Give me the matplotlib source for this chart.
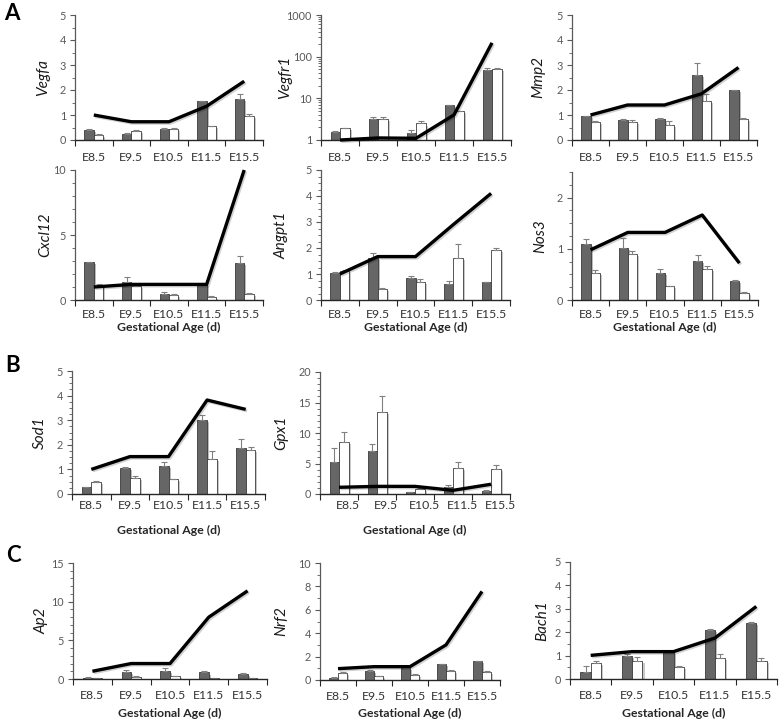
import matplotlib
matplotlib.use('Agg')
import matplotlib.pyplot as plt
import matplotlib.patheffects as pe
import matplotlib.transforms as mtransforms
from matplotlib.ticker import MultipleLocator, FixedLocator, LogLocator, NullFormatter, FixedFormatter
import numpy as np

plt.rcParams['font.family'] = ['Lato', 'DejaVu Sans']

stages = ['E8.5', 'E9.5', 'E10.5', 'E11.5', 'E15.5']

# line = fold change, dark/white bars with upper error bars
vegfa_line = [1.0, 0.73, 0.73, 1.35, 2.35]
vegfa_dark = [0.40, 0.25, 0.45, 1.55, 1.65]
vegfa_dark_err = [0.05, 0.05, 0.05, 0.02, 0.2]
vegfa_white = [0.22, 0.38, 0.45, 0.55, 0.95]
vegfa_white_err = [0.02, 0.03, 0.03, 0.02, 0.1]

vegfr1_line = [1.0, 1.12, 1.1, 4.0, 215]
vegfr1_dark = [1.53, 3.2, 1.5, 6.8, 48]
vegfr1_dark_err = [0.1, 0.4, 0.25, 0.1, 5]
vegfr1_white = [1.9, 3.2, 2.5, 5.0, 51]
vegfr1_white_err = [0.05, 0.3, 0.3, 0.1, 3]

mmp2_line = [1.0, 1.4, 1.4, 1.85, 2.9]
mmp2_dark = [0.95, 0.8, 0.85, 2.6, 2.0]
mmp2_dark_err = [0.02, 0.03, 0.02, 0.48, 0.02]
mmp2_white = [0.72, 0.72, 0.62, 1.55, 0.85]
mmp2_white_err = [0.06, 0.08, 0.16, 0.3, 0.03]

cxcl12_line = [1.0, 1.2, 1.2, 1.2, 10.0]
cxcl12_dark = [2.9, 1.4, 0.5, 1.2, 2.85]
cxcl12_dark_err = [0.0, 0.4, 0.12, 0.05, 0.55]
cxcl12_white = [1.1, 1.1, 0.4, 0.25, 0.5]
cxcl12_white_err = [0.12, 0.05, 0.03, 0.02, 0.06]

angpt1_line = [1.0, 1.67, 1.67, 2.9, 4.1]
angpt1_dark = [1.05, 1.6, 0.85, 0.62, 0.68]
angpt1_dark_err = [0.02, 0.2, 0.06, 0.13, 0.02]
angpt1_white = [1.12, 0.42, 0.68, 1.6, 1.93]
angpt1_white_err = [0.03, 0.03, 0.12, 0.55, 0.06]

nos3_line = [0.98, 1.32, 1.32, 1.66, 0.72]
nos3_dark = [1.1, 1.02, 0.53, 0.76, 0.37]
nos3_dark_err = [0.1, 0.2, 0.07, 0.11, 0.03]
nos3_white = [0.52, 0.9, 0.27, 0.6, 0.14]
nos3_white_err = [0.06, 0.06, 0.01, 0.06, 0.01]

sod1_line = [1.0, 1.52, 1.52, 3.82, 3.44]
sod1_dark = [0.28, 1.05, 1.15, 3.0, 1.88]
sod1_dark_err = [0.02, 0.06, 0.15, 0.2, 0.37]
sod1_white = [0.5, 0.65, 0.6, 1.43, 1.78]
sod1_white_err = [0.04, 0.07, 0.02, 0.32, 0.14]

gpx1_line = [1.1, 1.25, 1.25, 0.6, 1.6]
gpx1_dark = [5.2, 7.0, 0.3, 1.2, 0.5]
gpx1_dark_err = [2.3, 1.2, 0.05, 0.2, 0.1]
gpx1_white = [8.5, 13.4, 0.9, 4.3, 4.1]
gpx1_white_err = [1.6, 2.7, 0.1, 0.9, 0.7]

ap2_line = [1.0, 2.0, 2.0, 8.0, 11.4]
ap2_dark = [0.15, 0.9, 1.05, 0.85, 0.7]
ap2_dark_err = [0.05, 0.25, 0.35, 0.15, 0.05]
ap2_white = [0.12, 0.3, 0.35, 0.15, 0.1]
ap2_white_err = [0.02, 0.1, 0.03, 0.02, 0.02]

nrf2_line = [0.97, 1.14, 1.14, 3.0, 7.57]
nrf2_dark = [0.2, 0.8, 1.0, 1.35, 1.6]
nrf2_dark_err = [0.02, 0.05, 0.05, 0.05, 0.03]
nrf2_white = [0.6, 0.35, 0.45, 0.75, 0.7]
nrf2_white_err = [0.05, 0.03, 0.03, 0.1, 0.03]

bach1_line = [1.01, 1.17, 1.17, 1.75, 3.1]
bach1_dark = [0.3, 1.0, 1.15, 2.1, 2.38]
bach1_dark_err = [0.25, 0.05, 0.03, 0.05, 0.07]
bach1_white = [0.7, 0.78, 0.52, 0.88, 0.78]
bach1_white_err = [0.05, 0.17, 0.03, 0.19, 0.1]

W, H = 783, 720
fig = plt.figure(figsize=(W / 100, H / 100), dpi=100)

DARK = '#666666'
EDGE = '#3a3a3a'
ERR = '#808080'
bar_fx = [pe.withSimplePatchShadow(offset=(1.5, -1.5), alpha=0.3)]
line_fx = [pe.SimpleLineShadow(offset=(1, -1), alpha=0.18), pe.Normal()]


def add_panel(rect, name, line, dark, dark_err, white, white_err, ymax, major, minor,
              log=False, pad=8.0, xlabel_y=None, ylabel_x=None, label_shift=0):
    x0, y0, x1, y1 = rect
    ax = fig.add_axes([x0 / W, 1 - y1 / H, (x1 - x0) / W, (y1 - y0) / H])
    x = np.arange(len(stages))
    w = 0.25
    bottom = 1 if log else 0
    dark = np.array(dark)
    white = np.array(white)
    ax.bar(x - w / 2, dark - bottom, w, bottom=bottom, color=DARK, edgecolor=EDGE,
           linewidth=0.6, zorder=2, path_effects=bar_fx)
    ax.bar(x + w / 2, white - bottom, w, bottom=bottom, color='white', edgecolor=EDGE,
           linewidth=0.6, zorder=2, path_effects=bar_fx)
    ax.errorbar(x - w / 2, dark, yerr=[np.zeros(5), dark_err], fmt='none', ecolor=ERR,
                elinewidth=0.8, capsize=2.5, capthick=0.8, zorder=2.5)
    ax.errorbar(x + w / 2, white, yerr=[np.zeros(5), white_err], fmt='none', ecolor=ERR,
                elinewidth=0.8, capsize=2.5, capthick=0.8, zorder=2.5)
    ax.plot(x, line, color='black', lw=2.4, zorder=3, solid_capstyle='butt',
            path_effects=line_fx, clip_on=False)

    ax.set_xlim(-0.5, 4.5)
    if log:
        ax.set_yscale('log')
        ax.set_ylim(1, ymax)
        ax.yaxis.set_major_locator(FixedLocator([1, 10, 100, 1000]))
        ax.yaxis.set_major_formatter(FixedFormatter(['1', '10', '100', '1000']))
        ax.yaxis.set_minor_locator(LogLocator(base=10, subs=np.arange(2, 10)))
        ax.yaxis.set_minor_formatter(NullFormatter())
    else:
        ax.set_ylim(0, ymax)
        ax.yaxis.set_major_locator(MultipleLocator(major))
        ax.yaxis.set_minor_locator(MultipleLocator(minor))

    for side in ['top', 'right']:
        ax.spines[side].set_visible(False)
    ax.spines['left'].set_color('#595959')
    ax.spines['bottom'].set_color('#262626')
    ax.spines['left'].set_linewidth(0.9)
    ax.spines['bottom'].set_linewidth(1.0)

    ax.set_xticks(x)
    ax.set_xticklabels(stages)
    ax.set_xticks(np.arange(-0.5, 5, 1), minor=True)
    ax.tick_params(axis='x', which='major', length=0, pad=pad, labelsize=8.8, labelcolor='#333333')
    ax.tick_params(axis='x', which='minor', length=4, width=0.8, color='#262626', direction='out')
    ax.tick_params(axis='y', which='major', length=3.5, width=0.8, color='#595959',
                   labelsize=7.8, labelcolor='#595959', pad=3)
    ax.tick_params(axis='y', which='minor', length=2, width=0.6, color='#595959')

    if label_shift:
        offset = mtransforms.ScaledTranslation(label_shift / 100, 0, fig.dpi_scale_trans)
        for lab in ax.get_xticklabels():
            lab.set_transform(lab.get_transform() + offset)

    fig.text(ylabel_x / W, 1 - (y0 + y1) / 2 / H, name, rotation=90, ha='center', va='center',
             style='italic', fontsize=11, color='#1a1a1a')
    if xlabel_y is not None:
        fig.text((x0 + x1) / 2 / W, 1 - xlabel_y / H, 'Gestational Age (d)', ha='center',
                 va='center', fontsize=8.8, fontweight='bold', color='#262626')
    return ax


# row A top
add_panel((75, 15, 263, 140), 'Vegfa', vegfa_line, vegfa_dark, vegfa_dark_err,
          vegfa_white, vegfa_white_err, 5, 1, 0.5, pad=8.5, ylabel_x=43)
add_panel((321, 15, 511, 140), 'Vegfr1', vegfr1_line, vegfr1_dark, vegfr1_dark_err,
          vegfr1_white, vegfr1_white_err, 1000, None, None, log=True, pad=8.5, ylabel_x=285)
add_panel((572, 15, 757, 140), 'Mmp2', mmp2_line, mmp2_dark, mmp2_dark_err,
          mmp2_white, mmp2_white_err, 5, 1, 0.5, pad=8.5, ylabel_x=538)

# row A bottom
add_panel((75, 170, 263, 300), 'Cxcl12', cxcl12_line, cxcl12_dark, cxcl12_dark_err,
          cxcl12_white, cxcl12_white_err, 10, 5, 1, pad=6.5, xlabel_y=327, ylabel_x=45)
add_panel((321, 170, 510, 300), 'Angpt1', angpt1_line, angpt1_dark, angpt1_dark_err,
          angpt1_white, angpt1_white_err, 5, 1, 0.25, pad=6.5, xlabel_y=327, ylabel_x=282)
add_panel((572, 172, 758, 300), 'Nos3', nos3_line, nos3_dark, nos3_dark_err,
          nos3_white, nos3_white_err, 2.5, 1, 0.25, pad=6.5, xlabel_y=327, ylabel_x=540)

# row B
add_panel((72, 371, 265, 494), 'Sod1', sod1_line, sod1_dark, sod1_dark_err,
          sod1_white, sod1_white_err, 5, 1, 0.25, pad=4, xlabel_y=530, ylabel_x=40)
add_panel((320, 372, 510, 494), 'Gpx1', gpx1_line, gpx1_dark, gpx1_dark_err,
          gpx1_white, gpx1_white_err, 20, 5, 1, pad=4, xlabel_y=530, ylabel_x=281,
          label_shift=9)

# row C
add_panel((73, 563, 267, 679), 'Ap2', ap2_line, ap2_dark, ap2_dark_err,
          ap2_white, ap2_white_err, 15, 5, 1, pad=8, xlabel_y=713, ylabel_x=42)
add_panel((320, 563, 500, 680), 'Nrf2', nrf2_line, nrf2_dark, nrf2_dark_err,
          nrf2_white, nrf2_white_err, 10, 2, 1, pad=8, xlabel_y=713, ylabel_x=281)
add_panel((570, 562, 777, 679), 'Bach1', bach1_line, bach1_dark, bach1_dark_err,
          bach1_white, bach1_white_err, 5, 1, 0.5, pad=8, xlabel_y=713, ylabel_x=542)

for letter, px, py in [('A', 12, 14), ('B', 13, 365), ('C', 13, 555)]:
    fig.text(px / W, 1 - py / H, letter, ha='center', va='center', fontsize=16,
             fontweight='bold', color='black')

fig.savefig('out.png', dpi=100)
